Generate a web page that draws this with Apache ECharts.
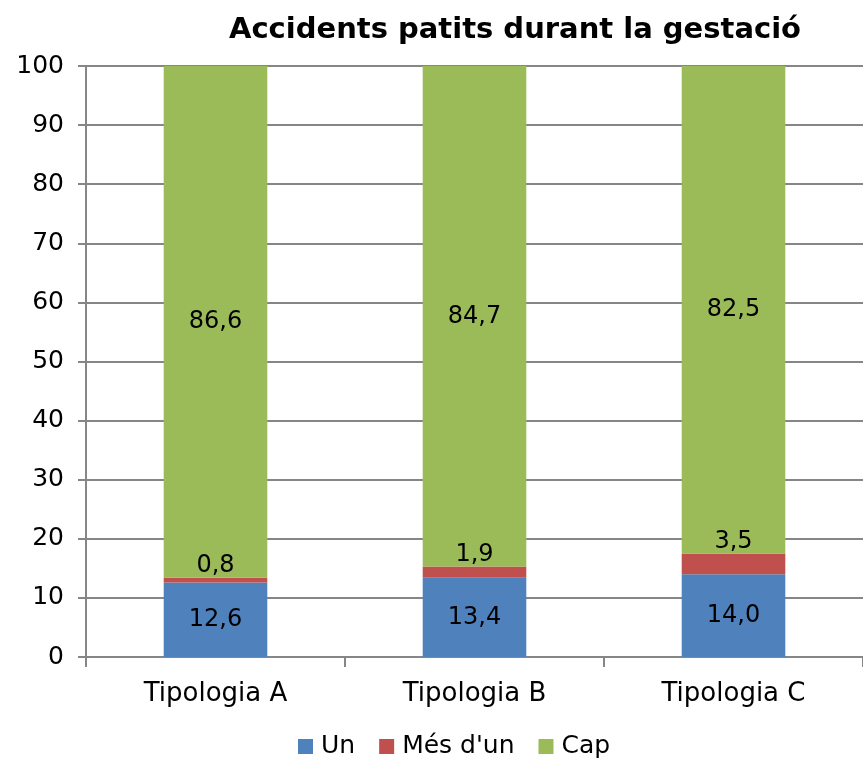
<!DOCTYPE html>
<html>
<head>
<meta charset="utf-8">
<script src="https://cdn.jsdelivr.net/npm/echarts@6/dist/echarts.min.js"></script>
<style>
  html, body { margin: 0; padding: 0; background: #fff; }
  #chart { width: 863px; height: 758px; }
</style>
</head>
<body>
<div id="chart"></div>
<script>
// dades
const categories = ['Tipologia A', 'Tipologia B', 'Tipologia C'];
const un = [12.6, 13.4, 14.0];
const mesDun = [0.8, 1.9, 3.5];
const cap = [86.6, 84.7, 82.5];
const yTicks = [0, 10, 20, 30, 40, 50, 60, 70, 80, 90, 100];

const font = 'DejaVu Sans';
const fmt = (p) => p.value.toFixed(1).replace('.', ',');

const chart = echarts.init(document.getElementById('chart'));

const labelStyle = {
  show: true,
  color: '#000',
  fontFamily: font,
  fontSize: 24,
  formatter: fmt
};

chart.setOption({
  animation: false,
  title: {
    text: 'Accidents patits durant la gestació',
    left: 510,
    textAlign: 'center',
    top: 11,
    textStyle: { fontFamily: font, fontWeight: 'bold', fontSize: 29, color: '#000' }
  },
  legend: {
    bottom: -6,
    left: 293,
    itemWidth: 15,
    itemHeight: 15,
    itemGap: 24,
    icon: 'rect',
    textStyle: { fontFamily: font, fontSize: 25, color: '#000', padding: [0, 0, 0, 3] },
    data: ['Un', "Més d'un", 'Cap']
  },
  grid: { left: 86, right: 0, top: 66, bottom: 101, containLabel: false },
  xAxis: {
    type: 'category',
    data: categories,
    axisLine: { lineStyle: { color: '#868686', width: 2 } },
    axisTick: { show: true, length: 10, lineStyle: { color: '#868686', width: 2 } },
    axisLabel: { color: '#000', fontFamily: font, fontSize: 26, margin: 24 }
  },
  yAxis: {
    type: 'value',
    min: yTicks[0],
    max: yTicks[yTicks.length - 1],
    interval: 10,
    axisLine: { show: true, lineStyle: { color: '#868686', width: 2 } },
    axisTick: { show: true, length: 8, lineStyle: { color: '#868686', width: 2 } },
    splitLine: { lineStyle: { color: '#868686', width: 2 } },
    axisLabel: { color: '#000', fontFamily: font, fontSize: 25, margin: 22 }
  },
  series: [
    {
      name: 'Un', type: 'bar', stack: 'tot', data: un, barWidth: '40%',
      itemStyle: { color: '#4F81BD' },
      label: Object.assign({}, labelStyle, { position: 'inside' })
    },
    {
      name: "Més d'un", type: 'bar', stack: 'tot', data: mesDun,
      itemStyle: { color: '#C0504D' },
      label: Object.assign({}, labelStyle, { position: 'top', distance: 0 })
    },
    {
      name: 'Cap', type: 'bar', stack: 'tot', data: cap,
      itemStyle: { color: '#9BBB59' },
      label: Object.assign({}, labelStyle, { position: 'inside' })
    }
  ]
});
</script>
</body>
</html>
